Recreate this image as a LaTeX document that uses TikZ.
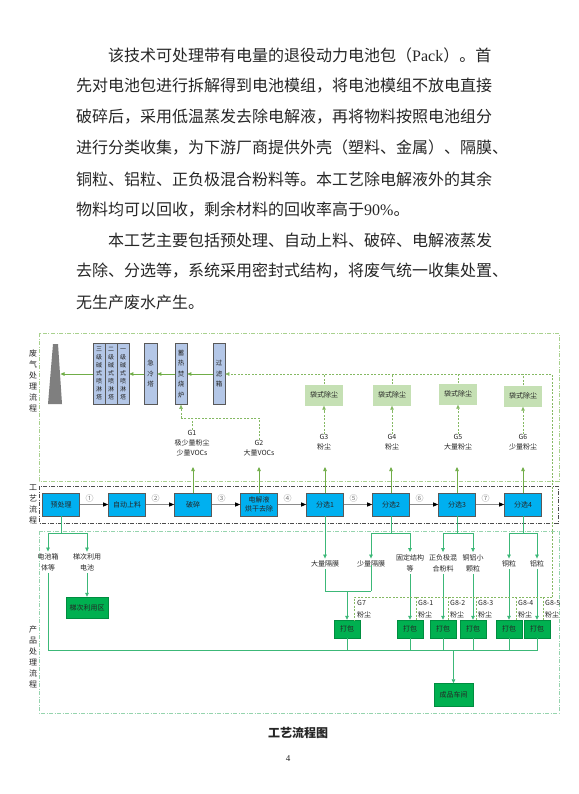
\documentclass[tikz,border=0pt]{standalone}
\usepackage{fontspec}
\setmainfont{Noto Sans CJK SC}
\newfontfamily\latinfont{Liberation Serif}
\usetikzlibrary{arrows.meta,calc}

\definecolor{procblue}{HTML}{00B0F0}
\definecolor{towerblue}{HTML}{B4C7E7}
\definecolor{chimgray}{HTML}{7F7F7F}
\definecolor{bagfill}{HTML}{C5E0B4}
\definecolor{packgreen}{HTML}{00B050}
\definecolor{gasgreen}{HTML}{70AD47}
\definecolor{prodgreen}{HTML}{3CB878}
\definecolor{gasframecol}{HTML}{A9D18E}
\definecolor{prodframecol}{HTML}{96D4AE}
\definecolor{inkgray}{HTML}{262626}

\begin{document}
\begin{tikzpicture}[x=1pt, y=-1pt,
    every node/.style={inner sep=0pt, text=inkgray, font=\fontsize{7}{8.5}\selectfont},
    bodyline/.style={anchor=west, font=\fontsize{16}{16}\selectfont},
    sectitle/.style={align=center, font=\fontsize{8}{11}\selectfont},
    procbox/.style={draw=black!65, fill=procblue, line width=0.6pt,
        minimum width=37pt, minimum height=23pt, align=center},
    towerbox/.style={draw=black!65, fill=towerblue, line width=0.6pt,
        minimum width=12pt, minimum height=61pt, align=center,
        font=\fontsize{6}{8}\selectfont},
    vbox/.style={towerbox, font=\fontsize{6.5}{10.5}\selectfont},
    bagbox/.style={fill=bagfill, minimum width=38pt, minimum height=21pt},
    packbox/.style={fill=packgreen, draw=packgreen!80!black, line width=0.4pt,
        minimum width=26pt, minimum height=18pt},
    glabel/.style={align=center, font=\fontsize{7}{10}\selectfont},
    plabel/.style={align=center, font=\fontsize{7}{11}\selectfont},
    dlabel/.style={anchor=west, align=left, font=\fontsize{7}{12}\selectfont},
    stepnum/.style={above=2pt, pos=0.35, text=black!50, font=\fontsize{8}{8}\selectfont},
    gastip/.style={-{Triangle[length=4pt,width=3.5pt]}},
    gasarrow/.style={draw=gasgreen, line width=0.7pt, gastip},
    gasdash/.style={draw=gasgreen!85, line width=0.5pt, dash pattern=on 2pt off 1.5pt},
    prodline/.style={draw=prodgreen, line width=0.7pt},
    prodarrow/.style={prodline, -{Triangle[length=4pt,width=3.5pt]}},
    procarrow/.style={draw=black!45, line width=1pt,
        -{Triangle[length=5pt,width=4pt,color=black]}},
    dashdot/.style={line width=0.6pt, dash pattern=on 4pt off 1.5pt on 1pt off 1.5pt}
]

\fill[white] (0,0) rectangle (578,794);
\useasboundingbox (0,0) rectangle (578,794);

% Body text
\node[bodyline] (txt1) at (108,55) {该技术可处理带有电量的退役动力电池包（{\latinfont Pack}）。首};
\node[bodyline] (txt2) at (76,86) {先对电池包进行拆解得到电池模组，将电池模组不放电直接};
\node[bodyline] (txt3) at (76,117) {破碎后，采用低温蒸发去除电解液，再将物料按照电池组分};
\node[bodyline] (txt4) at (76,148) {进行分类收集，为下游厂商提供外壳（塑料、金属）、隔膜、};
\node[bodyline] (txt5) at (76,179) {铜粒、铝粒、正负极混合粉料等。本工艺除电解液外的其余};
\node[bodyline] (txt6) at (76,210) {物料均可以回收，剩余材料的回收率高于{\latinfont 90\%}。};
\node[bodyline] (txt7) at (108,240) {本工艺主要包括预处理、自动上料、破碎、电解液蒸发};
\node[bodyline] (txt8) at (76,271) {去除、分选等，系统采用密封式结构，将废气统一收集处置、};
\node[bodyline] (txt9) at (76,302) {无生产废水产生。};

% Frames
\draw[dashdot, draw=gasframecol] (39,333) rectangle (559,481);
\draw[dashdot, draw=black!70] (39,486) rectangle (558,523);
\draw[dashdot, draw=prodframecol] (39,531) rectangle (559,713);

\node[sectitle] (gastitle) at (33,381) {废\\气\\处\\理\\流\\程};
\node[sectitle] (proctitle) at (33,504) {工\\艺\\流\\程};
\node[sectitle] (prodtitle) at (33,657) {产\\品\\处\\理\\流\\程};

% Process row
\node[procbox] (pre) at (61,504.5) {预处理};
\node[procbox] (feed) at (127,504.5) {自动上料};
\node[procbox] (crush) at (193,504.5) {破碎};
\node[procbox] (dry) at (259,504.5) {电解液\\烘干去除};
\node[procbox] (sort1) at (325,504.5) {分选1};
\node[procbox] (sort2) at (391,504.5) {分选2};
\node[procbox] (sort3) at (457,504.5) {分选3};
\node[procbox] (sort4) at (523,504.5) {分选4};

\draw[procarrow] (pre) -- node[stepnum] (n1) {①} (feed);
\draw[procarrow] (feed) -- node[stepnum] (n2) {②} (crush);
\draw[procarrow] (crush) -- node[stepnum] (n3) {③} (dry);
\draw[procarrow] (dry) -- node[stepnum] (n4) {④} (sort1);
\draw[procarrow] (sort1) -- node[stepnum] (n5) {⑤} (sort2);
\draw[procarrow] (sort2) -- node[stepnum] (n6) {⑥} (sort3);
\draw[procarrow] (sort3) -- node[stepnum] (n7) {⑦} (sort4);

% Waste gas treatment
\fill[chimgray] (53,344) -- (58,344) -- (62,404) -- (48,404) -- cycle;
\coordinate (chim) at (60.5,374);
\node[towerbox] (tow3) at (99,374) {三\\级\\碱\\式\\喷\\淋\\塔};
\node[towerbox] (tow2) at (111,374) {二\\级\\碱\\式\\喷\\淋\\塔};
\node[towerbox] (tow1) at (123,374) {一\\级\\碱\\式\\喷\\淋\\塔};
\node[vbox, minimum width=13pt] (quench) at (150.5,374) {急\\冷\\塔};
\node[vbox] (rto) at (181,374) {蓄\\热\\焚\\烧\\炉};
\node[vbox] (filter) at (219,374) {过\\滤\\箱};

\draw[gasarrow] (filter) -- (rto);
\draw[gasarrow] (rto) -- (quench);
\draw[gasarrow] (quench) -- (tow1);
\draw[gasarrow] (tow3) -- (chim);

\node[bagbox] (bag3) at (324,395) {袋式除尘};
\node[bagbox] (bag4) at (392,395) {袋式除尘};
\node[bagbox] (bag5) at (458,394) {袋式除尘};
\node[bagbox] (bag6) at (523,396) {袋式除尘};

\node[glabel] (g1) at (192,443) {G1\\极少量粉尘\\少量VOCs};
\node[glabel] (g2) at (259,448) {G2\\大量VOCs};
\node[glabel] (g3) at (324,442.5) {G3\\粉尘};
\node[glabel] (g4) at (392,442.5) {G4\\粉尘};
\node[glabel] (g5) at (458,442.5) {G5\\大量粉尘};
\node[glabel] (g6) at (523,442.5) {G6\\少量粉尘};

% Dust return line
\coordinate (ret) at (552,374);
\coordinate (retlow) at (552,597);
\draw[gasdash, gastip] (retlow) -- (ret) -- (filter.east);
\draw[gasdash] (bag3.north) -- (bag3.north |- ret);
\draw[gasdash] (bag4.north) -- (bag4.north |- ret);
\draw[gasdash] (bag5.north) -- (bag5.north |- ret);
\draw[gasdash] (bag6.north) -- (bag6.north |- ret);
\draw[gasdash, gastip] (g3.north) -- (bag3.south);
\draw[gasdash, gastip] (g4.north) -- (bag4.south);
\draw[gasdash, gastip] (g5.north) -- (bag5.south);
\draw[gasdash, gastip] (g6.north) -- (bag6.south);

% VOCs to RTO
\coordinate (vocs) at (0,418);
\draw[gasdash] (g2.north) -- (g2.north |- vocs) -- (rto.south |- vocs);
\draw[gasdash] (g1.north) -- (g1.north |- vocs);
\draw[gasdash, gastip] (rto.south |- vocs) -- (rto.south);

% Emissions from process
\coordinate (gtip) at (0,467);
\draw[gasarrow] (crush.north) -- (crush.north |- gtip);
\draw[gasarrow] (dry.north) -- (dry.north |- gtip);
\draw[gasarrow] (sort1.north) -- (sort1.north |- gtip);
\draw[gasarrow] (sort2.north) -- (sort2.north |- gtip);
\draw[gasarrow] (sort3.north) -- (sort3.north |- gtip);
\draw[gasarrow] (sort4.north) -- (sort4.north |- gtip);

% Products
\node[plabel] (case) at (48,562.5) {电池箱\\体等};
\node[plabel] (cells) at (87,562.5) {梯次利用\\电池};
\node[packbox, minimum width=42pt, minimum height=21pt] (cascade) at (87,607.5) {梯次利用区};
\node[plabel] (bigsep) at (325,564) {大量隔膜};
\node[plabel] (smallsep) at (371,564) {少量隔膜};
\node[plabel] (shell) at (410,563) {固定结构\\等};
\node[plabel] (powder) at (443,563) {正负极混\\合粉料};
\node[plabel] (grains) at (473,563) {铜铝小\\颗粒};
\node[plabel] (cu) at (509,564) {铜粒};
\node[plabel] (al) at (537,564) {铝粒};

\coordinate (prej) at (61,533);
\draw[prodline] (pre.south) -- (prej);
\draw[prodarrow, shorten >=2pt] (prej) -| (case.north);
\draw[prodarrow, shorten >=2pt] (prej) -| (cells.north);
\draw[prodarrow, shorten <=2pt] (cells.south) -- (cascade.north);

\draw[prodarrow, shorten >=2pt] (sort1.south) -- (bigsep.north);
\coordinate (s2j) at (391,533);
\draw[prodline] (sort2.south) -- (s2j);
\draw[prodarrow, shorten >=2pt] (s2j) -| (smallsep.north);
\draw[prodarrow, shorten >=2pt] (s2j) -| (shell.north);
\coordinate (s3j) at (457,533);
\draw[prodline] (sort3.south) -- (s3j);
\draw[prodarrow, shorten >=2pt] (s3j) -| (powder.north);
\draw[prodarrow, shorten >=2pt] (s3j) -| (grains.north);
\coordinate (s4j) at (523,533);
\draw[prodline] (sort4.south) -- (s4j);
\draw[prodarrow, shorten >=2pt] (s4j) -| (cu.north);
\draw[prodarrow, shorten >=2pt] (s4j) -| (al.north);

% Packing
\node[packbox] (k1) at (347,629) {打包};
\node[packbox] (k2) at (410,629) {打包};
\node[packbox] (k3) at (443,629) {打包};
\node[packbox] (k4) at (473,629) {打包};
\node[packbox] (k5) at (509,629) {打包};
\node[packbox] (k6) at (537,629) {打包};

\coordinate (sepj) at (0,591);
\draw[prodline, shorten <=2pt] (bigsep.south) |- (smallsep.south |- sepj);
\draw[prodline] (smallsep.south |- sepj) -- ([yshift=2pt]smallsep.south);
\draw[prodarrow] (k1.north |- sepj) -- (k1.north);
\draw[prodarrow, shorten <=2pt] (shell.south) -- (k2.north);
\draw[prodarrow, shorten <=2pt] (powder.south) -- (k3.north);
\draw[prodarrow, shorten <=2pt] (grains.south) -- (k4.north);
\draw[prodarrow, shorten <=2pt] (cu.south) -- (k5.north);
\draw[prodarrow, shorten <=2pt] (al.south) -- (k6.north);

% Packing dust
\coordinate (t7) at (354,597);
\coordinate (t81) at (416,597);
\coordinate (t82) at (448,597);
\coordinate (t83) at (476,597);
\coordinate (t84) at (516,597);
\coordinate (t85) at (543,597);
\draw[gasdash] (retlow) -- (t7) -- (t7 |- k1.north);
\draw[gasdash] (t81) -- (t81 |- k2.north);
\draw[gasdash] (t82) -- (t82 |- k3.north);
\draw[gasdash] (t83) -- (t83 |- k4.north);
\draw[gasdash] (t84) -- (t84 |- k5.north);
\draw[gasdash] (t85) -- (t85 |- k6.north);
\node[dlabel] (g7) at (357,609) {G7\\粉尘};
\node[dlabel] (g81) at (418,609) {G8-1\\粉尘};
\node[dlabel] (g82) at (450,609) {G8-2\\粉尘};
\node[dlabel] (g83) at (478,609) {G8-3\\粉尘};
\node[dlabel] (g84) at (518,609) {G8-4\\粉尘};
\node[dlabel] (g85) at (545,609) {G8-5\\粉尘};

% Finished goods
\node[packbox, minimum width=39pt, minimum height=23pt] (fin) at (453.5,695) {成品车间};
\coordinate (coll) at (0,650);
\draw[prodline, shorten <=2pt] (case.south) |- (k6.south |- coll) -- (k6.south);
\draw[prodline] (k1.south) -- (k1.south |- coll);
\draw[prodline] (k2.south) -- (k2.south |- coll);
\draw[prodline] (k3.south) -- (k3.south |- coll);
\draw[prodline] (k4.south) -- (k4.south |- coll);
\draw[prodline] (k5.south) -- (k5.south |- coll);
\draw[prodarrow] (fin.north |- coll) -- (fin.north);

% Caption and page number
\node[font=\bfseries\fontsize{12}{12}\selectfont] (cap) at (298,733) {工艺流程图};
\node[font=\latinfont\fontsize{9}{9}\selectfont] (pagenum) at (288,759) {4};

\end{tikzpicture}
\end{document}
